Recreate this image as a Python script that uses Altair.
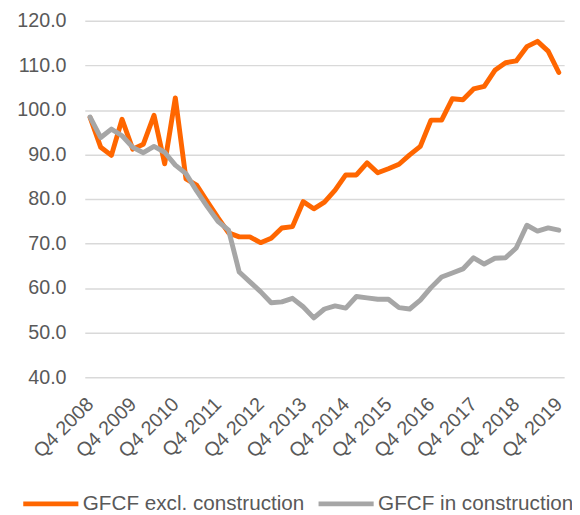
import altair as alt
import pandas as pd

quarters = []
qs = ["Q1", "Q2", "Q3", "Q4"]
quarters.append("Q4 2008")
for yr in range(2009, 2020):
    for q in qs:
        quarters.append(f"{q} {yr}")

tick_labels = [f"Q4 {y}" for y in range(2008, 2020)]

excl_construction = [
    98.3, 91.6, 89.8, 97.9, 91.2, 92.3, 98.8, 87.9, 102.7, 84.5,
    83.1, 79.4, 75.8, 72.4, 71.5, 71.5, 70.2, 71.2, 73.5, 73.8,
    79.4, 77.8, 79.3, 82.0, 85.4, 85.4, 88.1, 85.9, 86.8, 87.8,
    89.9, 91.8, 97.7, 97.7, 102.5, 102.3, 104.7, 105.3, 108.9, 110.6,
    111.0, 114.2, 115.4, 113.2, 108.4,
]
in_construction = [
    98.4, 93.8, 95.7, 94.2, 91.6, 90.4, 91.8, 90.5, 87.6, 85.7,
    81.8, 78.3, 75.0, 73.0, 63.6, 61.4, 59.2, 56.7, 56.9, 57.7,
    55.8, 53.3, 55.3, 56.0, 55.5, 58.1, 57.8, 57.5, 57.5, 55.6,
    55.3, 57.3, 60.1, 62.5, 63.4, 64.3, 66.8, 65.4, 66.7, 66.8,
    69.0, 74.1, 72.8, 73.5, 73.0,
]

series_names = ["GFCF excl. construction", "GFCF in construction"]
colors = ["#FF6600", "#A6A6A6"]

df = pd.DataFrame({
    "quarter": quarters * 2,
    "value": excl_construction + in_construction,
    "series": [series_names[0]] * len(quarters) + [series_names[1]] * len(quarters),
})

FONT = "Liberation Sans"

x_enc = alt.X(
    "quarter:O",
    sort=quarters,
    scale=alt.Scale(type="point", padding=0.5),
    axis=alt.Axis(
        title=None,
        values=tick_labels,
        labelAngle=-45,
        labelAlign="right",
        labelBaseline="middle",
        labelFontSize=20,
        labelFont=FONT,
        labelColor="#595959",
        labelPadding=24,
        ticks=False,
        domain=False,
        grid=False,
    ),
)
y_enc = alt.Y(
    "value:Q",
    scale=alt.Scale(domain=[40, 120], nice=False, zero=False),
    axis=alt.Axis(
        title=None,
        values=[40, 50, 60, 70, 80, 90, 100, 110, 120],
        format=".1f",
        labelFontSize=20,
        labelFont=FONT,
        labelColor="#595959",
        labelPadding=19,
        ticks=False,
        domain=False,
        grid=True,
        gridColor="#D9D9D9",
        gridWidth=1.5,
    ),
)
color_enc = alt.Color(
    "series:N",
    scale=alt.Scale(domain=series_names, range=colors),
    legend=alt.Legend(
        title=None,
        orient="none",
        legendX=-65,
        legendY=460,
        direction="horizontal",
        columns=2,
        symbolType="stroke",
        symbolSize=3136,
        symbolStrokeWidth=5,
        labelFontSize=21,
        labelFont=FONT,
        labelColor="#595959",
        labelOffset=2,
        columnPadding=3,
        labelLimit=400,
    ),
)

base = alt.Chart(df).mark_line(strokeWidth=5, strokeJoin="round", strokeCap="round")

layer1 = base.transform_filter(alt.datum.series == series_names[0]).encode(
    x=x_enc, y=y_enc, color=color_enc
)
layer2 = base.transform_filter(alt.datum.series == series_names[1]).encode(
    x=x_enc, y=y_enc, color=color_enc
)

chart = alt.layer(layer1, layer2).properties(
    width=487,
    height=362,
    padding={"left": 78, "top": 9, "right": 8, "bottom": 136},
    autosize=alt.AutoSizeParams(type="none"),
).configure_view(stroke=None)

chart.save("out.html", embed_options={"renderer": "svg", "actions": False})
